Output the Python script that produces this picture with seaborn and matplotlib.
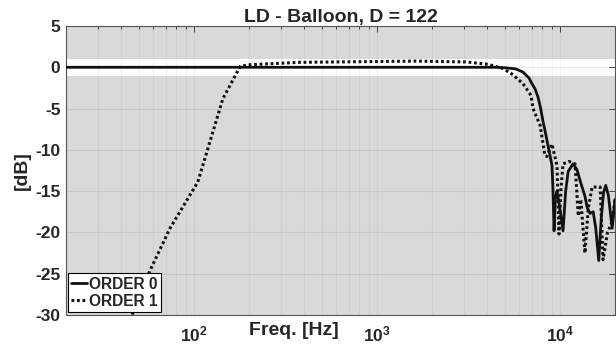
import numpy as np
import pandas as pd
import matplotlib
matplotlib.use("Agg")
import matplotlib.pyplot as plt
from matplotlib.ticker import FixedLocator, LogLocator, FuncFormatter, NullFormatter
import seaborn as sns

# Frequency response of the two filter orders (Hz, dB)
order0_freq = [20, 1000, 4000, 4480, 5000, 5750, 6300, 6780, 7000, 7310, 7590,
               7850, 8090, 8350, 8610, 8850, 9050, 9160, 9290, 9450, 9640, 9900,
               10400, 10750, 11100, 11800, 12400, 13000, 13700, 14100, 14600,
               15200, 15700, 16300, 16800, 17300, 17800, 18400, 19300, 20000]
order0_db = [0.0, 0.0, 0.0, 0.0, -0.05, -0.2, -0.6, -1.3, -1.9, -2.6, -3.6,
             -5.0, -6.6, -8.0, -9.5, -10.8, -11.9, -14.7, -19.8, -15.8, -15.0,
             -16.5, -19.8, -15.0, -12.6, -11.7, -12.4, -14.0, -15.6, -17.0,
             -17.7, -17.5, -19.5, -23.4, -18.5, -15.2, -14.3, -15.5, -19.5, -16.0]

order1_freq = [40, 45.9, 57.6, 74, 105, 144, 179, 198, 380, 1000, 1640, 3070,
               4050, 4890, 5540, 6290, 6950, 7130, 7790, 8280, 8490, 9050, 9640,
               9880, 10150, 10400, 11200, 12100, 12600, 13000, 13700, 14300,
               15000, 16600, 17200, 18200, 19300, 20000]
order1_db = [-33.0, -30.0, -24.6, -19.5, -13.9, -3.8, 0.1, 0.3, 0.6, 0.7, 0.75,
             0.65, 0.36, -0.15, -0.9, -2.0, -3.4, -5.0, -7.0, -10.7, -10.8,
             -9.3, -11.9, -20.2, -14.5, -11.7, -11.4, -11.7, -18.0, -16.0,
             -22.5, -17.0, -14.5, -14.5, -23.3, -20.0, -18.7, -16.0]

series_names = ["ORDER 0", "ORDER 1"]
title_text = "LD - Balloon, D = 122"
y_ticks = [-30, -25, -20, -15, -10, -5, 0, 5]
x_major = [1e2, 1e3, 1e4]

sns.set_theme(style="white")
plt.rcParams["font.family"] = ["Liberation Sans", "DejaVu Sans"]
plt.rcParams["font.weight"] = "bold"
plt.rcParams["axes.unicode_minus"] = False
plt.rcParams["mathtext.fontset"] = "custom"
plt.rcParams["mathtext.rm"] = "Liberation Sans:bold"
plt.rcParams["mathtext.bf"] = "Liberation Sans:bold"
plt.rcParams["mathtext.it"] = "Liberation Sans:bold:italic"

fig = plt.figure(figsize=(6.16, 3.49), dpi=100)
ax = fig.add_axes([66 / 616, 1 - 315 / 349, 549 / 616, 289 / 349])
ax.set_facecolor("#d9d9d9")

# white tolerance band around 0 dB
ax.axhspan(-1.0, 1.05, color="white", zorder=0.5, lw=0)

df0 = pd.DataFrame({"freq": order0_freq, "db": order0_db})
df1 = pd.DataFrame({"freq": order1_freq, "db": order1_db})

sns.lineplot(data=df0, x="freq", y="db", ax=ax, color="#111111", lw=2.0,
             label=series_names[0], zorder=3)
sns.lineplot(data=df1, x="freq", y="db", ax=ax, color="#111111", lw=2.2,
             linestyle=(0, (0.9, 0.9)), label=series_names[1], zorder=3)

ax.set_xscale("log")
ax.set_xlim(20, 20000)
ax.set_ylim(-30, 5)

ax.xaxis.set_major_locator(FixedLocator(x_major))
ax.xaxis.set_minor_locator(LogLocator(base=10, subs=np.arange(2, 10)))
ax.xaxis.set_minor_formatter(NullFormatter())
ax.xaxis.set_major_formatter(
    FuncFormatter(lambda v, p: r"$\mathbf{10^{%d}}$" % int(round(np.log10(v)))))
ax.yaxis.set_major_locator(FixedLocator(y_ticks))

ax.grid(True, which="both", axis="x", color="black", alpha=0.045, lw=0.8)
ax.grid(True, which="major", axis="y", color="black", alpha=0.08, lw=0.8)
for gl in ax.get_xgridlines() + ax.get_ygridlines():
    gl.set_zorder(1)

ax.tick_params(axis="both", which="both", direction="in", top=True, right=True,
               color="#444444", width=0.7)
ax.tick_params(axis="both", which="major", length=4, pad=4, labelsize=12.5)
ax.tick_params(axis="x", which="minor", length=2.5)
ax.tick_params(axis="x", which="major", pad=7)
for lab in ax.get_yticklabels():
    lab.set_fontweight("bold")

for sp in ax.spines.values():
    sp.set_color("#555555")
    sp.set_linewidth(0.8)

ax.set_title(title_text, fontsize=14, fontweight="bold", pad=3)
ax.set_xlabel("Freq. [Hz]", fontsize=14, fontweight="bold")
ax.xaxis.set_label_coords(0.415, -0.055)
ax.xaxis.label.set_va("center")
ax.set_ylabel("[dB]", fontsize=14, fontweight="bold")
ax.yaxis.set_label_coords(-0.080, 0.5)
ax.yaxis.label.set_va("center")

leg = ax.legend(loc="lower left", bbox_to_anchor=(0.0036, 0.0104),
                borderaxespad=0, frameon=True, fancybox=False, framealpha=1,
                edgecolor="black", fontsize=11.2, handlelength=1.0,
                handletextpad=0.15, borderpad=0.2, labelspacing=0.15)
leg.get_frame().set_linewidth(0.8)
for t in leg.get_texts():
    t.set_fontweight("bold")

fig.savefig("out.png", dpi=100)
